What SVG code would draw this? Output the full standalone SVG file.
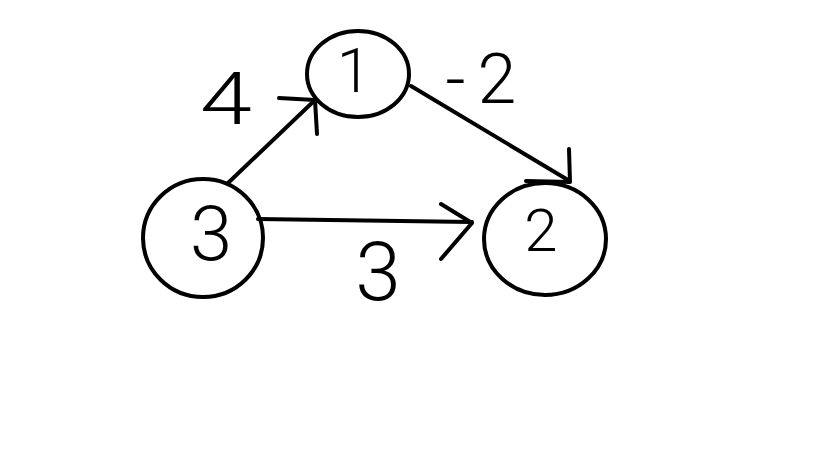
<svg xmlns="http://www.w3.org/2000/svg" width="819" height="460" viewBox="0 0 819 460">
<style>
.node{fill:none;stroke:#000;stroke-width:4}
.edge{fill:none;stroke:#000;stroke-width:4;stroke-linecap:round;stroke-linejoin:round}
text{font-family:"Roboto","Liberation Sans","DejaVu Sans",sans-serif;fill:#000;text-anchor:middle;font-weight:300}
</style>
<rect width="819" height="460" fill="#fff"/>
<g id="edges">
<g id="e31"><path class="edge" d="M228,183 L315,100"/><path class="edge" d="M279,98 L315,100 L317,134"/></g>
<g id="e12"><path class="edge" d="M411,86 L568,180"/><path class="edge" d="M569,149 L570,182 L526,181"/></g>
<g id="e32"><path class="edge" d="M258,219 L472,222"/><path class="edge" d="M441,204 L472,223 L441,259"/></g>
<text x="226" y="124" font-size="72" transform="translate(226,0) scale(1.3,1) translate(-226,0)">4</text>
<text x="487" y="103" font-size="70" letter-spacing="12">-2</text>
<text x="378" y="300" font-size="82">3</text>
</g>
<g id="n1"><ellipse class="node" cx="358" cy="74" rx="51" ry="43"/><text x="354" y="92" font-size="62">1</text></g>
<g id="n3"><ellipse class="node" cx="203" cy="238" rx="60" ry="59"/><text x="211" y="260" font-size="76">3</text></g>
<g id="n2"><ellipse class="node" cx="545" cy="239" rx="61" ry="56"/><text x="541" y="251" font-size="60">2</text></g>
</svg>
